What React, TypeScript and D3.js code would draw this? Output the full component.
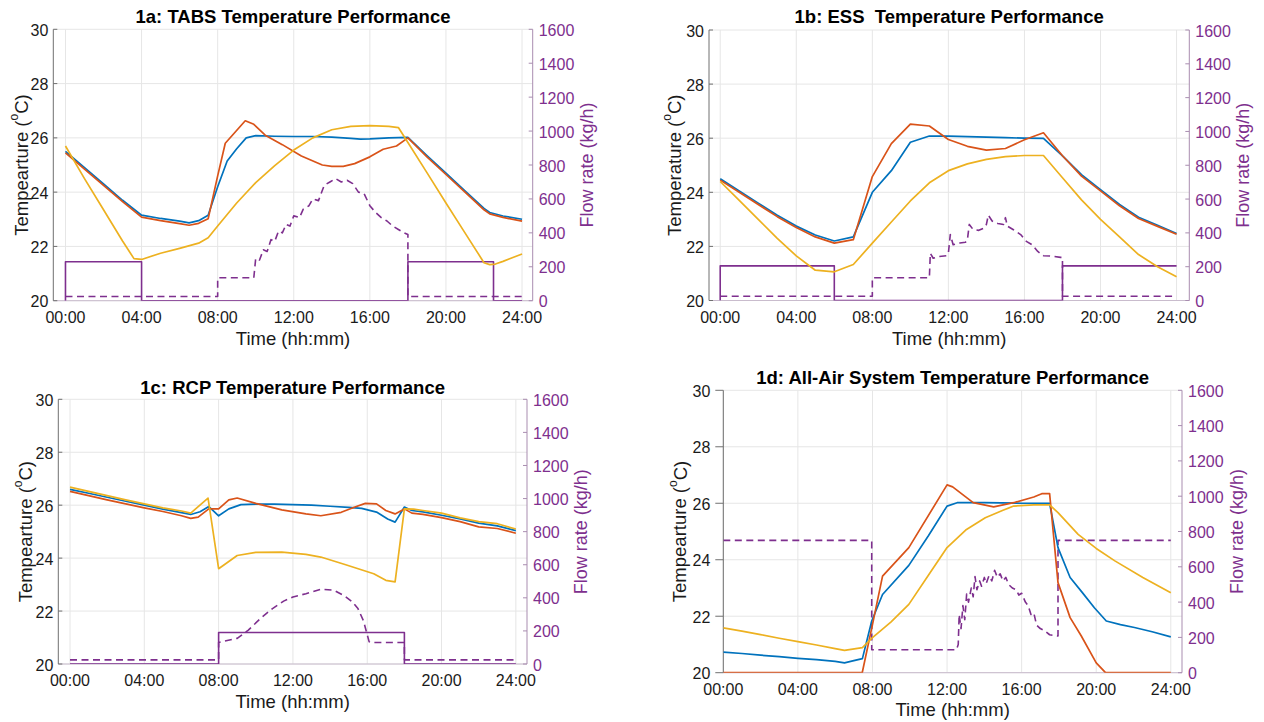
import React from 'react';
import * as d3 from 'd3';

type Pt = [number, number];

// ---------- tick definitions ----------
const TIME_TICKS = [0, 4, 8, 12, 16, 20, 24];
const TIME_LABELS = ['00:00', '04:00', '08:00', '12:00', '16:00', '20:00', '24:00'];
const TEMP_TICKS = [20, 22, 24, 26, 28, 30];
const FLOW_TICKS = [0, 200, 400, 600, 800, 1000, 1200, 1400, 1600];

// ---------- 1a: TABS ----------
const tabsBlue: Pt[] = [[0,25.5],[1,24.9],[2,24.3],[3,23.7],[4,23.15],[5,23.03],[6,22.93],[6.5,22.87],[7,22.95],[7.5,23.15],[8,24.2],[8.5,25.15],[9,25.6],[9.5,26.0],[10,26.08],[11,26.06],[12,26.05],[13,26.05],[14,26.03],[15,25.98],[15.5,25.95],[16,25.96],[17,26.0],[18,26.02],[19,25.35],[20,24.7],[21,24.05],[22,23.4],[22.3,23.25],[23,23.12],[24,23.0]];
const tabsOrange: Pt[] = [[0,25.45],[1,24.85],[2,24.25],[3,23.65],[4,23.08],[5,22.95],[6,22.84],[6.5,22.78],[7,22.85],[7.5,23.02],[8,24.6],[8.4,25.8],[9.45,26.63],[9.9,26.5],[10.5,26.1],[11.4,25.75],[12.4,25.33],[13.5,25.0],[14,24.95],[14.6,24.95],[15.2,25.05],[16,25.3],[16.7,25.58],[17.4,25.7],[18,26.0],[19,25.3],[20,24.65],[21,24.0],[22,23.35],[22.3,23.2],[23,23.07],[24,22.93]];
const tabsYellow: Pt[] = [[0,25.7],[1,24.5],[2,23.35],[3,22.2],[3.6,21.55],[4,21.52],[5,21.75],[6,21.93],[7,22.12],[7.5,22.32],[8,22.75],[9,23.6],[10,24.35],[11,24.98],[12,25.55],[13,26.0],[14,26.3],[15,26.42],[16,26.45],[17,26.42],[17.5,26.38],[18,25.83],[19,24.72],[20,23.6],[21,22.5],[22,21.4],[22.3,21.33],[22.6,21.35],[23,21.45],[24,21.72]];
const tabsFlowSolid: Pt[] = [[0,0],[0,230],[4,230],[4,0],[18,0],[18,230],[22.5,230],[22.5,0],[24,0]];
const tabsFlowDashed: Pt[] = [[0,25],[8,25],[8,135],[9.9,135],[10,250],[10.2,240],[10.4,300],[10.6,290],[10.8,360],[11,350],[11.2,410],[11.4,400],[11.6,450],[11.8,440],[12,500],[12.3,490],[12.5,540],[12.8,560],[13,600],[13.3,590],[13.6,680],[13.9,700],[14.2,720],[14.5,700],[14.8,710],[15.1,690],[15.4,640],[15.7,630],[16,560],[16.3,520],[16.6,490],[16.9,470],[17.2,440],[17.5,420],[17.8,400],[18,390],[18,25],[24,25]];

// ---------- 1b: ESS ----------
const essBlue: Pt[] = [[0,24.5],[1,24.05],[2,23.6],[3,23.15],[4,22.75],[5,22.42],[6,22.2],[7,22.35],[8,24.0],[9,24.8],[10,25.85],[11,26.08],[12,26.08],[13,26.06],[14,26.04],[15,26.02],[16,26.0],[17,25.99],[18,25.35],[19,24.65],[20,24.1],[21,23.55],[22,23.08],[23,22.78],[24,22.48]];
const essOrange: Pt[] = [[0,24.45],[1,24.0],[2,23.55],[3,23.1],[4,22.7],[5,22.35],[6,22.12],[7,22.25],[8,24.58],[9,25.8],[10,26.52],[11,26.45],[12,25.95],[13,25.7],[14,25.56],[15,25.62],[16,25.94],[17,26.2],[18,25.35],[19,24.6],[20,24.05],[21,23.5],[22,23.03],[23,22.74],[24,22.45]];
const essYellow: Pt[] = [[0,24.4],[1,23.7],[2,23.0],[3,22.3],[4,21.65],[5,21.12],[6,21.06],[7,21.33],[8,22.12],[9,22.9],[10,23.68],[11,24.35],[12,24.8],[13,25.05],[14,25.22],[15,25.32],[16,25.36],[17,25.36],[18,24.54],[19,23.72],[20,23.0],[21,22.35],[22,21.7],[23,21.25],[24,20.88]];
const essFlowSolid: Pt[] = [[0,0],[0,205],[6,205],[6,0],[18,0],[18,205],[24,205]];
const essFlowDashed: Pt[] = [[0,25],[8,25],[8,135],[11,135],[11.05,280],[11.2,250],[11.5,260],[11.9,265],[12,280],[12.1,390],[12.25,330],[12.6,340],[12.9,345],[13,360],[13.1,450],[13.3,420],[13.6,415],[13.9,430],[14,450],[14.1,505],[14.3,470],[14.6,455],[14.9,450],[15,490],[15.1,440],[15.4,420],[15.8,390],[16.1,350],[16.4,330],[16.7,290],[17,265],[17.5,262],[17.9,255],[18,255],[18,25],[24,25]];

// ---------- 1c: RCP ----------
const rcpBlue: Pt[] = [[0,26.6],[1,26.45],[2,26.3],[3,26.15],[4,26.0],[5,25.85],[6,25.72],[6.5,25.65],[7,25.75],[7.47,25.95],[8,25.6],[8.55,25.86],[9.2,26.02],[10,26.04],[11,26.04],[12,26.02],[13,26.0],[14,25.96],[15,25.92],[15.7,25.88],[16.5,25.74],[17.1,25.48],[17.5,25.36],[18,25.93],[18.4,25.8],[19,25.75],[20,25.62],[21,25.48],[22,25.32],[23,25.22],[24,25.04]];
const rcpOrange: Pt[] = [[0,26.52],[1,26.36],[2,26.2],[3,26.05],[4,25.9],[5,25.76],[6,25.6],[6.5,25.5],[6.9,25.55],[7.47,25.86],[8,25.86],[8.55,26.2],[9,26.27],[10,26.07],[11.4,25.82],[12.7,25.67],[13.5,25.6],[14.6,25.73],[15.3,25.92],[15.9,26.07],[16.5,26.05],[17,25.8],[17.5,25.67],[18,25.86],[18.4,25.7],[19,25.65],[20,25.53],[21,25.38],[22,25.18],[23,25.12],[24,24.94]];
const rcpYellow: Pt[] = [[0,26.68],[1,26.52],[2,26.36],[3,26.2],[4,26.05],[5,25.9],[6,25.78],[6.5,25.7],[7.43,26.27],[8,23.6],[9,24.1],[10,24.22],[11.4,24.23],[12.7,24.14],[13.5,24.04],[14.8,23.76],[16.35,23.41],[17,23.16],[17.5,23.1],[18,25.86],[18.5,25.85],[19,25.8],[20,25.7],[21,25.52],[22,25.38],[23,25.3],[24,25.1]];
const rcpFlowSolid: Pt[] = [[0,0],[8,0],[8,190],[18,190],[18,0],[24,0]];
const rcpFlowDashed: Pt[] = [[0,25],[8,25],[8,130],[9,155],[9.6,205],[10.3,280],[10.9,335],[11.5,380],[12,405],[12.7,425],[13.5,452],[14.2,446],[14.8,410],[15.2,375],[15.5,335],[15.8,260],[16.1,135],[16.2,130],[18,130],[18,25],[24,25]];

// ---------- 1d: All-Air ----------
const airBlue: Pt[] = [[0,20.73],[1,20.68],[2,20.62],[3,20.57],[4,20.51],[5,20.46],[6,20.4],[6.5,20.35],[7,20.43],[7.46,20.5],[7.96,21.83],[8.54,22.77],[9.95,23.8],[11,24.85],[12,25.9],[12.54,26.02],[14,26.02],[16,26.0],[17.5,26.0],[17.95,24.43],[18.6,23.37],[19.3,22.8],[19.9,22.3],[20.54,21.83],[21.3,21.7],[22.05,21.6],[23,21.45],[24,21.27]];
const airOrange: Pt[] = [[0,20],[7.45,20],[8.0,21.7],[8.54,23.42],[9.95,24.43],[12,26.65],[12.3,26.58],[13.4,26.02],[14.5,25.87],[15.57,26.02],[16.65,26.22],[17.08,26.34],[17.5,26.34],[17.95,23.19],[18.6,21.95],[19.2,21.3],[20,20.35],[20.5,20.0],[24,20]];
const airYellow: Pt[] = [[0,21.59],[1,21.47],[2,21.35],[3,21.22],[4,21.1],[5,20.98],[6,20.85],[6.5,20.79],[7.46,20.89],[8,21.24],[9,21.8],[9.95,22.42],[11,23.45],[12,24.43],[13,25.05],[14.05,25.49],[15,25.75],[15.57,25.9],[16.65,25.94],[17.5,25.94],[17.95,25.67],[19.03,24.9],[20,24.4],[21,23.96],[22.5,23.37],[24,22.83]];
const airFlowDashed: Pt[] = [[0,750],[7.96,750],[7.96,130],[12.5,130],[12.6,160],[12.65,330],[12.75,250],[12.85,380],[12.95,300],[13.05,445],[13.15,400],[13.3,480],[13.4,430],[13.5,545],[13.6,470],[13.75,520],[13.85,490],[14,540],[14.1,505],[14.25,550],[14.4,520],[14.55,580],[14.7,540],[14.85,560],[15,520],[15.15,540],[15.3,500],[15.5,480],[15.7,470],[15.85,440],[16,450],[16.2,400],[16.35,380],[16.5,330],[16.65,340],[16.8,270],[17,250],[17.2,240],[17.5,215],[17.8,210],[17.95,208],[17.95,750],[24,750]];

const BLUE = '#0072BD';
const ORANGE = '#D95319';
const YELLOW = '#EDB120';
const PURPLE = '#7E2F8E';
const FONT = '"Liberation Sans", Arial, Helvetica, sans-serif';

interface PanelCfg {
  id: string;
  title: string;
  yLabel: string;
  left: number; right: number; top: number; bottom: number;
  xDomain: [number, number];
  titleY: number;
  xLabelY: number;
  yLabelX: number;
  rLabelX: number;
  outsideLeftTicks: boolean;
  blue: Pt[]; orange: Pt[]; yellow: Pt[];
  flowSolid: Pt[] | null; flowDashed: Pt[];
}

const panels: PanelCfg[] = [
  { id: 'a', title: '1a: TABS Temperature Performance', yLabel: 'Tempearture (',
    left: 53.3, right: 532.7, top: 29.3, bottom: 300.7, xDomain: [-0.64, 24.56],
    titleY: 16, xLabelY: 338, yLabelX: 21, rLabelX: 587, outsideLeftTicks: false,
    blue: tabsBlue, orange: tabsOrange, yellow: tabsYellow, flowSolid: tabsFlowSolid, flowDashed: tabsFlowDashed },
  { id: 'b', title: '1b: ESS  Temperature Performance', yLabel: 'Temperature (',
    left: 709, right: 1189.3, top: 30, bottom: 300.5, xDomain: [-0.59, 24.67],
    titleY: 16, xLabelY: 338, yLabelX: 674, rLabelX: 1243, outsideLeftTicks: false,
    blue: essBlue, orange: essOrange, yellow: essYellow, flowSolid: essFlowSolid, flowDashed: essFlowDashed },
  { id: 'c', title: '1c: RCP Temperature Performance', yLabel: 'Tempearture (',
    left: 58.3, right: 527, top: 399.3, bottom: 664, xDomain: [-0.63, 24.6],
    titleY: 387, xLabelY: 701.7, yLabelX: 25, rLabelX: 581, outsideLeftTicks: false,
    blue: rcpBlue, orange: rcpOrange, yellow: rcpYellow, flowSolid: rcpFlowSolid, flowDashed: rcpFlowDashed },
  { id: 'd', title: '1d: All-Air System Temperature Performance', yLabel: 'Tempearture (',
    left: 723.3, right: 1182, top: 390.3, bottom: 672.7, xDomain: [0, 24.6],
    titleY: 377.7, xLabelY: 709, yLabelX: 679.5, rLabelX: 1237, outsideLeftTicks: true,
    blue: airBlue, orange: airOrange, yellow: airYellow, flowSolid: null, flowDashed: airFlowDashed },
];

function Panel({ cfg }: { cfg: PanelCfg }) {
  const x = d3.scaleLinear().domain(cfg.xDomain).range([cfg.left, cfg.right]);
  const y = d3.scaleLinear().domain([20, 30]).range([cfg.bottom, cfg.top]);
  const yr = d3.scaleLinear().domain([0, 1600]).range([cfg.bottom, cfg.top]);
  const lineT = d3.line<Pt>().x(d => x(d[0])).y(d => y(d[1]));
  const lineF = d3.line<Pt>().x(d => x(d[0])).y(d => yr(d[1]));
  const cx = (cfg.left + cfg.right) / 2;
  const cy = (cfg.top + cfg.bottom) / 2;
  const clipId = `clip-${cfg.id}`;
  const tickLen = cfg.outsideLeftTicks ? 8 : 4;
  return (
    <g>
      <defs>
        <clipPath id={clipId}>
          <rect x={cfg.left} y={cfg.top} width={cfg.right - cfg.left} height={cfg.bottom - cfg.top} />
        </clipPath>
      </defs>
      {/* grid */}
      {TIME_TICKS.map(t => (
        <line key={'gx' + t} x1={x(t)} x2={x(t)} y1={cfg.top} y2={cfg.bottom} stroke="#e6e6e6" strokeWidth={1} />
      ))}
      {TEMP_TICKS.map(t => (
        <line key={'gy' + t} x1={cfg.left} x2={cfg.right} y1={y(t)} y2={y(t)} stroke="#e6e6e6" strokeWidth={1} />
      ))}
      {/* axes */}
      <line x1={cfg.left} x2={cfg.right} y1={cfg.bottom} y2={cfg.bottom} stroke="#c9bccd" strokeWidth={1} />
      <line x1={cfg.left} x2={cfg.left} y1={cfg.top} y2={cfg.bottom} stroke="#707070" strokeWidth={1} />
      <line x1={cfg.right} x2={cfg.right} y1={cfg.top} y2={cfg.bottom} stroke="#a98db0" strokeWidth={1} />
      {TEMP_TICKS.map(t => (
        <line key={'lt' + t}
          x1={cfg.outsideLeftTicks ? cfg.left - tickLen : cfg.left}
          x2={cfg.outsideLeftTicks ? cfg.left : cfg.left + tickLen}
          y1={y(t)} y2={y(t)} stroke="#707070" strokeWidth={1} />
      ))}
      {FLOW_TICKS.map(t => (
        <line key={'rt' + t} x1={cfg.right - 4} x2={cfg.right} y1={yr(t)} y2={yr(t)} stroke="#a98db0" strokeWidth={1} />
      ))}
      {/* data */}
      <g clipPath={`url(#${clipId})`} fill="none" strokeLinejoin="round">
        {cfg.flowSolid && <path d={lineF(cfg.flowSolid) || ''} stroke={PURPLE} strokeWidth={1.6} />}
        <path d={lineF(cfg.flowDashed) || ''} stroke={PURPLE} strokeWidth={1.6} strokeDasharray="7 4.5" />
        <path d={lineT(cfg.blue) || ''} stroke={BLUE} strokeWidth={1.7} />
        <path d={lineT(cfg.orange) || ''} stroke={ORANGE} strokeWidth={1.7} />
        <path d={lineT(cfg.yellow) || ''} stroke={YELLOW} strokeWidth={1.7} />
      </g>
      {/* tick labels */}
      <g fontFamily={FONT} fontSize={16}>
        {TEMP_TICKS.map(t => (
          <text key={'ll' + t} x={cfg.left - (cfg.outsideLeftTicks ? 13 : 5)} y={y(t) + 1}
            textAnchor="end" dominantBaseline="central" fill="#1a1a1a">{t}</text>
        ))}
        {FLOW_TICKS.map(t => (
          <text key={'rl' + t} x={cfg.right + 6} y={yr(t) + 1}
            textAnchor="start" dominantBaseline="central" fill={PURPLE}>{t}</text>
        ))}
        {TIME_TICKS.map((t, i) => (
          <text key={'xl' + t} x={x(t)} y={cfg.bottom + 16.5}
            textAnchor="middle" dominantBaseline="central" fill="#1a1a1a">{TIME_LABELS[i]}</text>
        ))}
      </g>
      {/* titles and labels */}
      <text x={cx} y={cfg.titleY} textAnchor="middle" dominantBaseline="central" style={{ whiteSpace: 'pre' }}
        fontFamily={FONT} fontSize={18.5} fontWeight="bold" fill="#000" textLength={undefined}>{cfg.title}</text>
      <text x={cx} y={cfg.xLabelY} textAnchor="middle" dominantBaseline="central"
        fontFamily={FONT} fontSize={18.5} fill="#1a1a1a">Time (hh:mm)</text>
      <text transform={`translate(${cfg.yLabelX},${cy}) rotate(-90)`} textAnchor="middle"
        dominantBaseline="central" fontFamily={FONT} fontSize={18.5} fill="#1a1a1a">
        {cfg.yLabel}<tspan fontSize={12} dy={-7}>o</tspan><tspan dy={7}>C)</tspan>
      </text>
      <text transform={`translate(${cfg.rLabelX},${cy}) rotate(-90)`} textAnchor="middle"
        dominantBaseline="central" fontFamily={FONT} fontSize={18} fill={PURPLE}>Flow rate (kg/h)</text>
    </g>
  );
}

export default function App() {
  return (
    <svg width={1264} height={722} style={{ position: 'absolute', left: 0, top: 0, background: '#fff' }}>
      <rect x={0} y={0} width={1264} height={722} fill="#fff" />
      {panels.map(p => <Panel key={p.id} cfg={p} />)}
    </svg>
  );
}
